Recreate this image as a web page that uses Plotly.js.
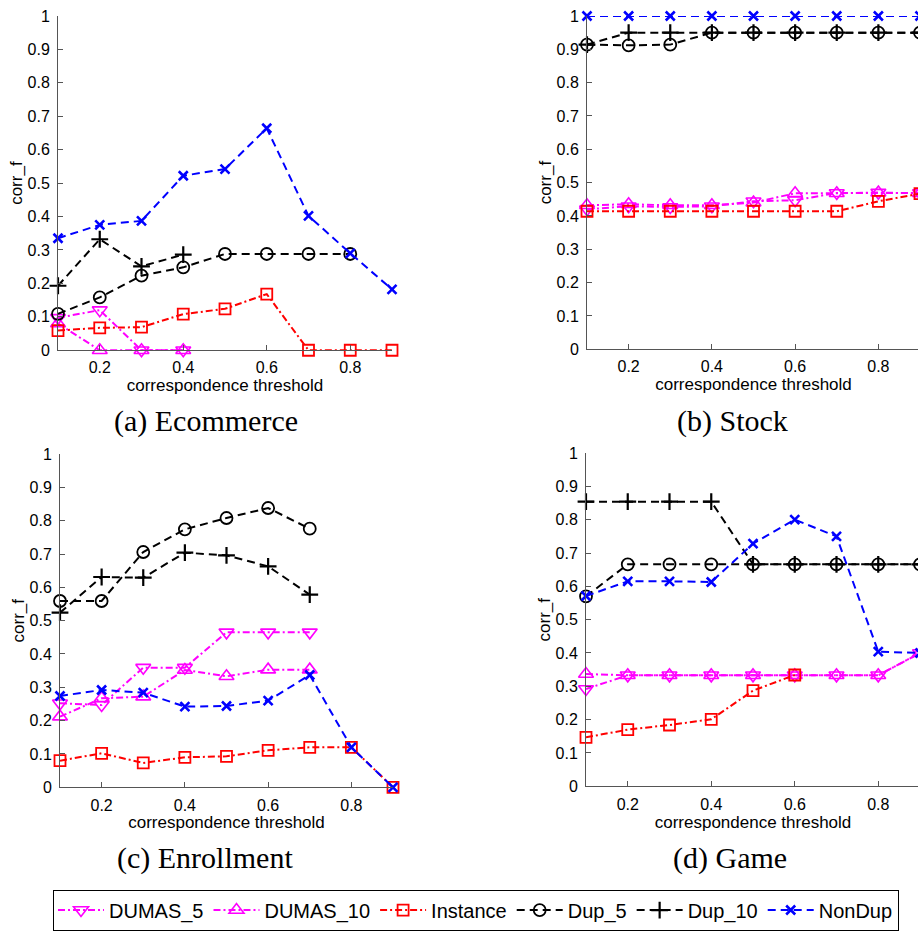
<!DOCTYPE html>
<html>
<head>
<meta charset="utf-8">
<script src="https://cdn.plot.ly/plotly-3.0.1.min.js"></script>
<style>
html, body { margin:0; padding:0; overflow:hidden; background:#fff; width:918px; height:931px; }
#chart { width:1000px; height:931px; }
</style>
</head>
<body>
<div id="chart"></div>
<script>
// ---------- data ----------
const thresholds = [0.1, 0.2, 0.3, 0.4, 0.5, 0.6, 0.7, 0.8, 0.9];
const seriesNames = ["DUMAS_5", "DUMAS_10", "Instance", "Dup_5", "Dup_10", "NonDup"];
const panelCaptions = ["(a) Ecommerce", "(b) Stock", "(c) Enrollment", "(d) Game"];
const xTickVals = [0.2, 0.4, 0.6, 0.8];

// (a) Ecommerce
const dumas5_a   = [0.097, 0.12, 0, 0, null, null, null, null, null];
const dumas10_a  = [0.08, 0, 0, 0, null, null, null, null, null];
const instance_a = [0.059, 0.067, 0.069, 0.108, 0.124, 0.168, 0, 0, 0];
const dup5_a     = [0.109, 0.158, 0.223, 0.248, 0.288, 0.288, 0.288, 0.288, null];
const dup10_a    = [0.193, 0.332, 0.251, 0.286, null, null, null, null, null];
const nondup_a   = [0.335, 0.375, 0.387, 0.522, 0.542, 0.664, 0.402, 0.29, 0.182];

// (b) Stock
const dumas5_b   = [0.42, 0.429, 0.427, 0.429, 0.444, 0.447, 0.469, 0.47, 0.469];
const dumas10_b  = [0.432, 0.435, 0.432, 0.432, 0.44, 0.468, 0.468, 0.47, 0.468];
const instance_b = [0.414, 0.414, 0.414, 0.414, 0.414, 0.414, 0.414, 0.444, 0.467];
const dup5_b     = [0.914, 0.912, 0.914, 0.95, 0.95, 0.95, 0.95, 0.95, 0.95];
const dup10_b    = [0.914, 0.95, 0.95, 0.95, 0.95, 0.95, 0.95, 0.95, 0.95];
const nondup_b   = [1, 1, 1, 1, 1, 1, 1, 1, 1];

// (c) Enrollment
const dumas5_c   = [0.252, 0.247, 0.359, 0.359, 0.465, 0.465, 0.465, null, null];
const dumas10_c  = [0.212, 0.267, 0.272, 0.352, 0.333, 0.353, 0.353, null, null];
const instance_c = [0.08, 0.102, 0.073, 0.09, 0.093, 0.111, 0.12, 0.12, 0];
const dup5_c     = [0.559, 0.559, 0.706, 0.774, 0.808, 0.838, 0.776, null, null];
const dup10_c    = [0.524, 0.631, 0.629, 0.704, 0.696, 0.663, 0.578, null, null];
const nondup_c   = [0.274, 0.292, 0.284, 0.242, 0.244, 0.26, 0.337, 0.12, 0];

// (d) Game
const dumas5_d   = [0.292, 0.333, 0.333, 0.333, 0.333, 0.333, 0.333, 0.333, 0.4];
const dumas10_d  = [0.337, 0.333, 0.333, 0.333, 0.333, 0.333, 0.333, 0.333, 0.4];
const instance_d = [0.147, 0.17, 0.184, 0.201, 0.287, 0.334, null, null, null];
const dup5_d     = [0.57, 0.666, 0.666, 0.666, 0.666, 0.666, 0.666, 0.666, 0.666];
const dup10_d    = [0.854, 0.854, 0.854, 0.854, 0.666, 0.666, 0.666, 0.666, 0.666];
const nondup_d   = [0.571, 0.615, 0.615, 0.613, 0.728, 0.80, 0.75, 0.404, 0.40];

const panels = [
  [dumas5_a, dumas10_a, instance_a, dup5_a, dup10_a, nondup_a],
  [dumas5_b, dumas10_b, instance_b, dup5_b, dup10_b, nondup_b],
  [dumas5_c, dumas10_c, instance_c, dup5_c, dup10_c, nondup_c],
  [dumas5_d, dumas10_d, instance_d, dup5_d, dup10_d, nondup_d]
];

// ---------- styles ----------
const styles = [
  {color:"#ff00ff", dash:"7px,3px,2px,3px", symbol:"triangle-down-open", size:13, mw:1.6},
  {color:"#ff00ff", dash:"7px,3px,2px,3px", symbol:"triangle-up-open",   size:13, mw:1.6},
  {color:"#ff0000", dash:"7px,3px,2px,3px", symbol:"square-open",        size:11, mw:1.8},
  {color:"#000000", dash:"8px,5px",         symbol:"circle-open",        size:12, mw:1.8},
  {color:"#000000", dash:"8px,5px",         symbol:"cross-thin-open",    size:12, mw:2.2},
  {color:"#0000ff", dash:"8px,5px",         symbol:"x-thin-open",        size:9,  mw:2.6}
];

const traces = [];
panels.forEach((panel, p) => {
  const ax = p === 0 ? "" : String(p + 1);
  panel.forEach((ys, s) => {
    const st = styles[s];
    traces.push({
      type: "scatter", mode: "lines+markers",
      x: thresholds, y: ys,
      name: seriesNames[s],
      legendgroup: seriesNames[s],
      showlegend: p === 0,
      xaxis: "x" + ax, yaxis: "y" + ax,
      cliponaxis: false,
      connectgaps: false,
      line: {color: st.color, width: 2, dash: st.dash},
      marker: {symbol: st.symbol, size: st.size, color: st.color,
               line: {color: st.color, width: st.mw}}
    });
  });
});

const H = 931, W = 1000;
const py = v => 1 - v / H;
const domains = [
  {x:[58/W, 392/W], y:[py(351), py(16)]},
  {x:[587/W, 920/W], y:[py(350), py(16)]},
  {x:[60/W, 393/W], y:[py(789), py(455)]},
  {x:[586/W, 920/W], y:[py(788), py(454)]}
];

const tickFont = {family:"Liberation Sans, Arial, sans-serif", size:16, color:"#000"};
const titleFont = {family:"Liberation Sans, Arial, sans-serif", size:17, color:"#000"};

const layout = {
  width: W, height: H,
  margin: {l:0, r:0, t:0, b:0},
  paper_bgcolor: "#fff", plot_bgcolor: "#fff",
  showlegend: true,
  legend: {
    orientation: "h", x: 476/W, xanchor: "center", y: py(912), yanchor: "middle",
    bgcolor: "#fff", bordercolor: "#000", borderwidth: 1,
    font: {family:"Liberation Sans, Arial, sans-serif", size:20, color:"#000"},
    itemsizing: "trace", itemwidth: 46
  },
  annotations: []
};

const captionPos = [[206, 422], [732, 422], [205, 860], [730, 860]];
domains.forEach((d, i) => {
  const k = i === 0 ? "" : String(i + 1);
  layout["xaxis" + k] = {
    domain: d.x, range: [0.1, 0.9], anchor: "y" + k,
    tickvals: xTickVals, ticktext: xTickVals.map(v => String(v)),
    ticks: "inside", ticklen: 5, tickcolor: "#555", tickwidth: 1,
    showline: true, linecolor: "#555", linewidth: 1, mirror: false,
    showgrid: false, zeroline: false, tickfont: tickFont, ticklabelstandoff: 3,
    title: {text: "correspondence threshold", font: titleFont, standoff: 0}
  };
  layout["yaxis" + k] = {
    domain: d.y, range: [0, 1], anchor: "x" + k,
    tick0: 0, dtick: 0.1,
    ticks: "inside", ticklen: 5, tickcolor: "#555", tickwidth: 1,
    showline: true, linecolor: "#555", linewidth: 1, mirror: false,
    showgrid: false, zeroline: false, tickfont: tickFont, ticklabelstandoff: 4,
    title: {text: "corr_f", font: titleFont, standoff: 0}
  };
  layout.annotations.push({
    text: panelCaptions[i], xref: "paper", yref: "paper",
    x: captionPos[i][0] / W, y: py(captionPos[i][1]),
    xanchor: "center", yanchor: "middle", showarrow: false,
    font: {family: "Liberation Serif, Times New Roman, serif", size: 30, color: "#000"}
  });
});

Plotly.newPlot("chart", traces, layout, {displayModeBar: false, staticPlot: true});
</script>
</body>
</html>
